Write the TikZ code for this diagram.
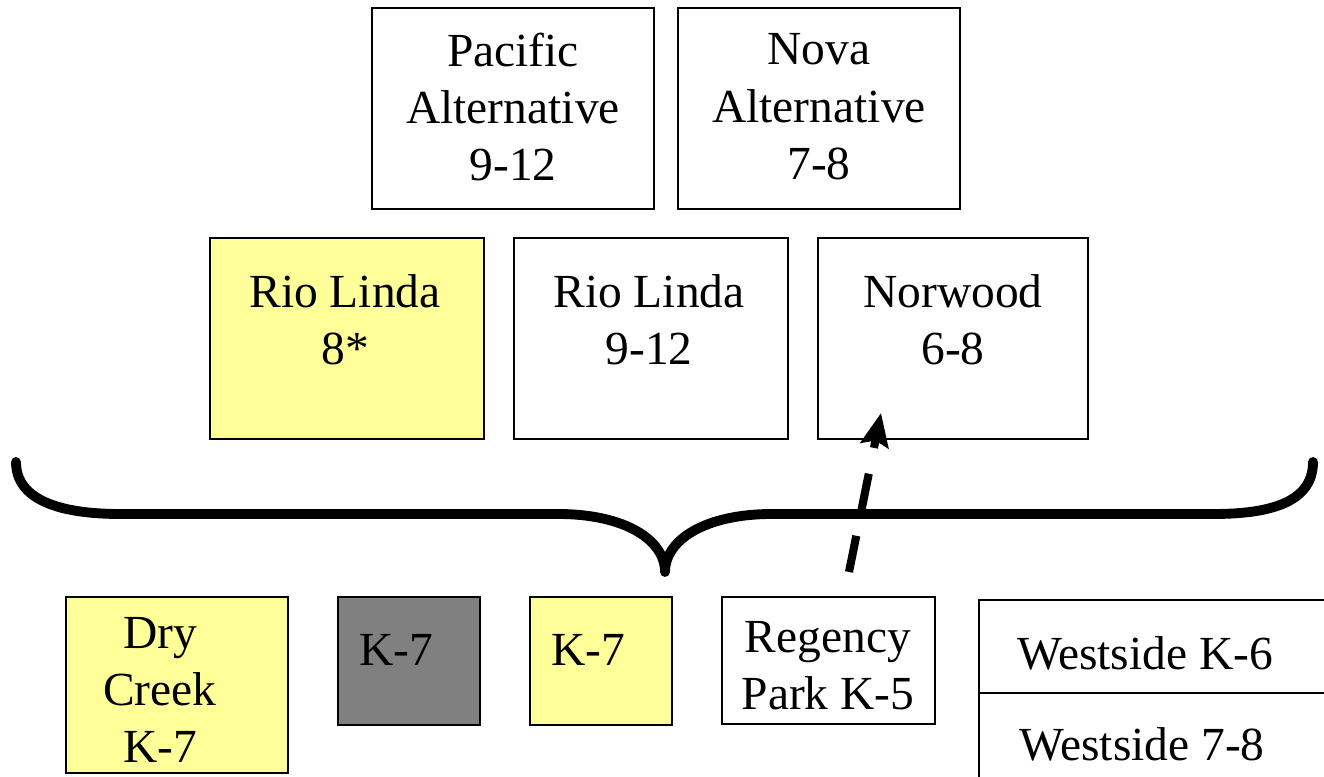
\documentclass[tikz,border=0pt]{standalone}
\usepackage{fontspec}
\setmainfont{Liberation Serif}
\usetikzlibrary{arrows.meta}
\definecolor{paleyellow}{HTML}{FFFF99}
\definecolor{midgrey}{HTML}{808080}
\begin{document}
\begin{tikzpicture}[x=0.01cm,y=-0.01cm,
  box/.style={draw=black, line width=0.6pt, inner sep=0pt},
  txt/.style={align=center, inner sep=0pt, font=\fontsize{13.5}{16.3}\selectfont},
  bracestyle/.style={line width=2.8pt, line cap=round, line join=round},
  dasharrow/.style={line width=2.3pt, dash pattern=on 10.5pt off 7.5pt, -{Stealth[length=0.33cm,width=0.28cm,inset=0.05cm]}}]
\useasboundingbox (0,0) rectangle (1324,777);
\clip (0,0) rectangle (1324,777);
% top row
\node[box, minimum width=2.82cm, minimum height=2.01cm] (pac) at (513,108.5) {};
\node[txt] (pact) at (513,107) {Pacific\\Alternative\\9-12};
\node[box, minimum width=2.82cm, minimum height=2.01cm] (nova) at (819,108.5) {};
\node[txt] (novat) at (819,107) {Nova\\Alternative\\7-8};
% middle row
\node[box, fill=paleyellow, minimum width=2.74cm, minimum height=2.01cm] (rl8) at (347,338.5) {};
\node[txt] (rl8t) at (345,320) {Rio Linda\\8*};
\node[box, minimum width=2.74cm, minimum height=2.01cm] (rl9) at (651,338.5) {};
\node[txt] (rl9t) at (649,320) {Rio Linda\\9-12};
\node[box, minimum width=2.70cm, minimum height=2.01cm] (nor) at (953,338.5) {};
\node[txt] (nort) at (953,320) {Norwood\\6-8};
% brace
\coordinate (bl) at (16,462);
\coordinate (bt) at (665,572);
\coordinate (br) at (1313,462);
\draw[bracestyle] (bl) .. controls (16,500) and (60,514) .. (120,514)
  -- (558,514) .. controls (625,514) and (665,540) .. (bt)
  .. controls (665,540) and (705,514) .. (772,514)
  -- (1214,514) .. controls (1275,514) and (1313,500) .. (br);
% bottom row
\node[box, fill=paleyellow, minimum width=2.22cm, minimum height=1.76cm] (dry) at (177,685) {};
\node[txt] (dryt) at (160,690) {Dry\\Creek\\K-7};
\node[box, fill=midgrey, minimum width=1.42cm, minimum height=1.28cm] (k7g) at (409,661) {};
\node[txt] (k7gt) at (396,650) {K-7};
\node[box, fill=paleyellow, minimum width=1.42cm, minimum height=1.28cm] (k7y) at (601,661) {};
\node[txt] (k7yt) at (588,650) {K-7};
\node[box, minimum width=2.13cm, minimum height=1.27cm] (reg) at (828.5,660.5) {};
\node[txt] (regt) at (828,665.5) {Regency\\Park K-5};
\node[box, anchor=north west, minimum width=3.8cm, minimum height=2.2cm] (west) at (978,599) {};
\coordinate (wdl) at (978,693);
\coordinate (wdr) at (1340,693);
\draw[line width=0.6pt] (wdl) -- (wdr);
\node[txt] (w6) at (1145,653) {Westside K-6};
\node[txt] (w78) at (1142,744) {Westside 7-8};
% dashed arrow
\coordinate (as) at (849,572);
\coordinate (ae) at (881,413);
\draw[dasharrow] (as) -- (ae);
\end{tikzpicture}
\end{document}
